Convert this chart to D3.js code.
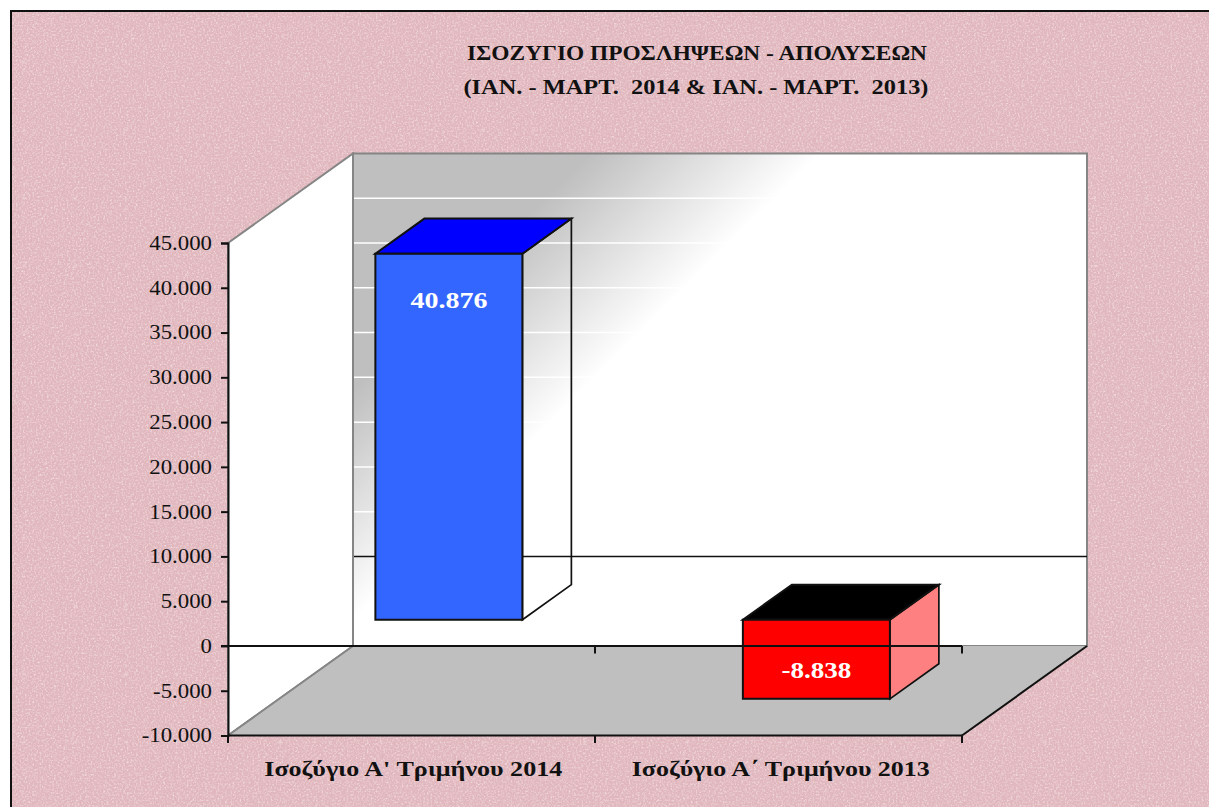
<!DOCTYPE html>
<html><head><meta charset="utf-8">
<script src="https://cdn.jsdelivr.net/npm/d3@7/dist/d3.min.js"></script>
<style>html,body{margin:0;padding:0;background:#fff;overflow:hidden}svg{display:block}
text{font-family:"Liberation Serif",serif;fill:#111}</style></head><body>
<script>
const titleLines = ["ΙΣΟΖΥΓΙΟ ΠΡΟΣΛΗΨΕΩΝ - ΑΠΟΛΥΣΕΩΝ", "(ΙΑΝ. - ΜΑΡΤ.  2014 & ΙΑΝ. - ΜΑΡΤ.  2013)"];
const categories = ["Ισοζύγιο Α' Τριμήνου 2014", "Ισοζύγιο Α΄ Τριμήνου 2013"];
const values = [40876, -8838];
const yTicks = [-10000,-5000,0,5000,10000,15000,20000,25000,30000,35000,40000,45000];
const frontColors = ["#3366ff", "#ff0000"];
const topColors = ["#0000ff", "#000000"];
const sideColors = ["none", "#ff8080"];

const W = 1209, H = 807;
const svg = d3.select("body").append("svg").attr("width", W).attr("height", H);
const defs = svg.append("defs");

// paper texture
const f = defs.append("filter").attr("id","paper").attr("x",0).attr("y",0).attr("width","100%").attr("height","100%");
f.append("feTurbulence").attr("type","fractalNoise").attr("baseFrequency","0.55").attr("numOctaves",3).attr("seed",7).attr("result","n");
f.append("feColorMatrix").attr("in","n").attr("type","matrix")
 .attr("values","0 0 0 0 0.76  0 0 0 0 0.50  0 0 0 0 0.55  1.3 0.9 0 0 -0.9").attr("result","dark");
f.append("feColorMatrix").attr("in","n").attr("type","matrix")
 .attr("values","0 0 0 0 0.94  0 0 0 0 0.80  0 0 0 0 0.82  0 0 1.3 0.9 -1.02").attr("result","light");
f.append("feMerge").attr("result","m").call(m=>{m.append("feMergeNode").attr("in","SourceGraphic");m.append("feMergeNode").attr("in","dark");m.append("feMergeNode").attr("in","light");});
f.append("feGaussianBlur").attr("in","m").attr("stdDeviation",0.6);
const pat = defs.append("pattern").attr("id","spots").attr("patternUnits","userSpaceOnUse")
  .attr("x",12).attr("y",12).attr("width",51).attr("height",68);
pat.append("circle").attr("cx",12).attr("cy",50).attr("r",1.5).attr("fill","#f3dde0").attr("opacity",.45);

const grad = defs.append("linearGradient").attr("id","wall").attr("gradientUnits","userSpaceOnUse")
  .attr("x1",372).attr("y1",372).attr("x2",487).attr("y2",487);
grad.append("stop").attr("offset",0).attr("stop-color","#bfbfbf");
grad.append("stop").attr("offset",1).attr("stop-color","#ffffff");

svg.append("rect").attr("x",11).attr("y",11.5).attr("width",W).attr("height",H)
  .attr("fill","#e0b6bc").attr("filter","url(#paper)");
svg.append("rect").attr("x",11).attr("y",11.5).attr("width",W).attr("height",H).attr("fill","url(#spots)");
svg.append("path").attr("d",`M11 ${H}V11H${W}`).attr("fill","none").attr("stroke","#111").attr("stroke-width",2);

// projection
const y = d3.scaleLinear().domain([-10000,45000]).range([735.5,243]);
const xFront = d3.scaleBand().domain(categories).range([228.5,963.5]).paddingInner(0.6).paddingOuter(0.3);
const DX = 125, DY = 89.5, z1 = 0.293, z2 = 0.685;
const P = (x, v, z) => [x + DX*z, y(v) - DY*z];
const poly = pts => "M" + pts.map(p=>p.join(",")).join("L") + "Z";
const xL = 228, xR = 962, yMin = -10000, yMax = 45000;

// back wall
svg.append("path").attr("d",poly([P(xL,yMin,1),P(xR,yMin,1),P(xR,yMax,1),P(xL,yMax,1)]))
  .attr("fill","url(#wall)").attr("stroke","#858585").attr("stroke-width",2);
// left wall
svg.append("path").attr("d",poly([P(xL,yMin,0),P(xL,yMin,1),P(xL,yMax,1),P(xL,yMax,0)]))
  .attr("fill","#fff").attr("stroke","#858585").attr("stroke-width",2);
// gridlines on wall
svg.append("g").selectAll("line").data(yTicks.filter(v=>v>0 && v<yMax)).join("line")
  .attr("x1",P(xL,0,1)[0]+1).attr("x2",P(xR,0,1)[0]-1)
  .attr("y1",d=>P(xL,d,1)[1]).attr("y2",d=>P(xL,d,1)[1])
  .attr("stroke","#fff").attr("stroke-width",1.5);
// floor
svg.append("path").attr("d",poly([P(xL,yMin,0),P(xR,yMin,0),P(xR,yMin,1),P(xL,yMin,1)])).attr("fill","#bfbfbf");
svg.append("line").attr("x1",P(xL,yMin,0)[0]).attr("y1",P(xL,yMin,0)[1]).attr("x2",P(xL,yMin,1)[0]).attr("y2",P(xL,yMin,1)[1])
  .attr("stroke","#858585").attr("stroke-width",2);
svg.append("line").attr("x1",P(xR,yMin,0)[0]).attr("y1",P(xR,yMin,0)[1]).attr("x2",P(xR,yMin,1)[0]).attr("y2",P(xR,yMin,1)[1])
  .attr("stroke","#111").attr("stroke-width",2);
// zero line on the back wall
svg.append("line").attr("x1",P(xL,0,1)[0]+1).attr("x2",P(xR,0,1)[0]).attr("y1",P(xL,0,1)[1]).attr("y2",P(xL,0,1)[1])
  .attr("stroke","#111").attr("stroke-width",1.5);

// bars
const bars = svg.append("g").selectAll("g").data(categories).join("g");
bars.each(function(c,i){
  const g = d3.select(this), v = values[i];
  const xa = xFront(c), xb = xa + xFront.bandwidth();
  const hi = Math.max(v,0), lo = Math.min(v,0);
  g.append("path").attr("d",poly([P(xb,hi,z1),P(xb,hi,z2),P(xb,lo,z2),P(xb,lo,z1)]))
    .attr("fill",sideColors[i]).attr("stroke","#111").attr("stroke-width",1.7);
  g.append("path").attr("d",poly([P(xa,hi,z1),P(xb,hi,z1),P(xb,hi,z2),P(xa,hi,z2)]))
    .attr("fill",topColors[i]).attr("stroke","#111").attr("stroke-width",2);
  g.append("path").attr("d",poly([P(xa,hi,z1),P(xb,hi,z1),P(xb,lo,z1),P(xa,lo,z1)]))
    .attr("fill",frontColors[i]).attr("stroke","#111").attr("stroke-width",2);
});

// axes
const el = d3.formatLocale({decimal:",",thousands:".",grouping:[3],currency:["","€"],minus:"-"});
const yAxis = d3.axisLeft(y).tickValues(yTicks).tickFormat(el.format(",d")).tickSize(7).tickPadding(9);
const ga = svg.append("g").attr("transform",`translate(${xL},0)`).call(yAxis);
ga.selectAll("path,line").attr("stroke","#111").attr("stroke-width",2);
ga.selectAll("text").attr("font-size",20).attr("font-family",'"Liberation Serif",serif').attr("fill","#222")
  .each(function(){ d3.select(this).attr("textLength",this.getComputedTextLength()*1.14).attr("lengthAdjust","spacingAndGlyphs"); });

const xEdges = [xL,(xL+xR)/2,xR];
[yMin,0].forEach(val=>{
  const g = svg.append("g");
  g.append("line").attr("x1",xL-7*(val===0?1:0)).attr("x2",xR).attr("y1",y(val)).attr("y2",y(val)).attr("stroke","#111").attr("stroke-width",2);
  g.selectAll("line.t").data(xEdges.filter(e=>val===yMin||e>xL)).join("line").attr("class","t")
   .attr("x1",d=>d).attr("x2",d=>d).attr("y1",y(val)).attr("y2",y(val)+7.5).attr("stroke","#111").attr("stroke-width",2);
});

// data labels
const labelFmt = el.format(",d");
bars.append("text").text((c,i)=>labelFmt(values[i]))
  .attr("x",(c,i)=>P(xFront(c)+xFront.bandwidth()/2,0,z1)[0])
  .attr("y",(c,i)=>i===0?308:678)
  .attr("text-anchor","middle").attr("font-size",24).attr("font-weight","bold").style("fill","#fff")
  .attr("textLength",(c,i)=>i?70:77).attr("lengthAdjust","spacingAndGlyphs");

// category labels
svg.append("g").selectAll("text").data(categories).join("text").text(d=>d)
  .attr("x",d=>xFront(d)+xFront.bandwidth()/2+1).attr("y",776).attr("text-anchor","middle")
  .attr("font-size",21).attr("font-weight","bold").attr("textLength",298).attr("lengthAdjust","spacingAndGlyphs");

// title
svg.append("g").selectAll("text").data(titleLines).join("text").text(d=>d)
  .attr("x",(d,i)=>i?696:697).attr("y",(d,i)=>i?94:60).attr("text-anchor","middle")
  .style("white-space","pre")
  .attr("font-size",20).attr("font-weight","bold")
  .attr("textLength",(d,i)=>i?465:460).attr("lengthAdjust","spacingAndGlyphs");
</script></body></html>
